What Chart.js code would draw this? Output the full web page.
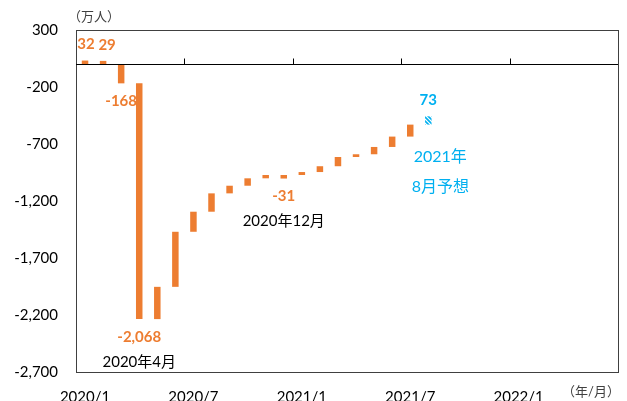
<!DOCTYPE html>
<html>
<head>
<meta charset="utf-8">
<script src="https://cdn.jsdelivr.net/npm/chart.js@4.4.1/dist/chart.umd.min.js"></script>
<style>
  body { margin: 0; background: #fff; }
  #wrap { width: 627px; height: 401px; }
</style>
</head>
<body>
<div id="wrap"><canvas id="chart"></canvas></div>
<script>
// 月（カテゴリ）
const months = [
  '2020/1', '2020/2', '2020/3', '2020/4', '2020/5', '2020/6',
  '2020/7', '2020/8', '2020/9', '2020/10', '2020/11', '2020/12',
  '2021/1', '2021/2', '2021/3', '2021/4', '2021/5', '2021/6',
  '2021/7', '2021/8', '2021/9', '2021/10', '2021/11', '2021/12',
  '2022/1', '2022/2', '2022/3', '2022/4', '2022/5', '2022/6'
];

// 各バーの始点と終点（万人）
const barFrom = [0, 0, 0, -168, -2236, -1953, -1470, -1294, -1133, -1066, -1001, -972, -972, -946, -895, -814, -790, -726, -635, -530];
const barTo   = [32, 29, -168, -2236, -1953, -1470, -1294, -1133, -1066, -1001, -972, -1003, -946, -895, -814, -790, -726, -635, -530, -457];

// データラベル
const valueLabels = ['32', '29', '-168', '-2,068', null, null, null, null, null, null, null, '-31', null, null, null, null, null, null, null, '73'];
const noteLabels = { 3: '2020年4月', 11: '2020年12月' };
const forecastIndex = 19;
const forecastNote = ['2021年', '8月予想'];

const yMin = -2700, yMax = 300, yStep = 500;

const ORANGE = '#ED7D31';
const BLUE = '#00B0F0';
const FONT = "Lato, 'Noto Sans CJK JP', sans-serif";

// 重なるラベルを少しずらす
const labelNudge = { 0: 1, 1: 4 };

// 予想バー用の斜線パターン
function makeHatch() {
  const c = document.createElement('canvas');
  c.width = 4; c.height = 4;
  const g = c.getContext('2d');
  g.strokeStyle = BLUE;
  g.lineWidth = 1.6;
  g.beginPath();
  g.moveTo(0, 0); g.lineTo(4, 4);
  g.moveTo(-2, 2); g.lineTo(2, 6);
  g.moveTo(2, -2); g.lineTo(6, 2);
  g.stroke();
  return g.createPattern(c, 'repeat');
}

const barData = months.map((m, i) => i < barFrom.length ? [barFrom[i], barTo[i]] : null);
const barColors = months.map((m, i) => i === forecastIndex ? makeHatch() : ORANGE);

// 枠・ゼロ線・ラベルを描くプラグイン
const decorations = {
  id: 'decorations',
  afterDatasetsDraw(chart) {
    const { ctx, chartArea: a, scales: { x, y } } = chart;
    const zeroY = Math.round(y.getPixelForValue(0)) + 0.5;
    ctx.save();

    // 枠
    ctx.strokeStyle = '#404040';
    ctx.lineWidth = 1;
    ctx.strokeRect(Math.round(a.left) + 0.5, Math.round(a.top) + 0.5, Math.round(a.right - a.left), Math.round(a.bottom - a.top));

    // ゼロ線と目盛り
    ctx.strokeStyle = '#000';
    ctx.beginPath();
    ctx.moveTo(a.left, zeroY);
    ctx.lineTo(a.right, zeroY);
    for (let i = 6; i < months.length; i += 6) {
      const px = Math.round((x.getPixelForValue(i - 1) + x.getPixelForValue(i)) / 2) + 0.5;
      ctx.moveTo(px, zeroY);
      ctx.lineTo(px, zeroY - 6);
    }
    ctx.stroke();

    // 値ラベル
    ctx.textAlign = 'center';
    ctx.textBaseline = 'middle';
    valueLabels.forEach((txt, i) => {
      if (!txt) return;
      const px = x.getPixelForValue(i) + (labelNudge[i] || 0);
      const endY = y.getPixelForValue(barTo[i]);
      const up = barTo[i] > barFrom[i] && (i === forecastIndex || barFrom[i] === 0);
      ctx.font = 'bold 15px ' + FONT;
      ctx.fillStyle = i === forecastIndex ? BLUE : ORANGE;
      const ly = up ? endY - 16 : endY + 18;
      ctx.fillText(txt, px, ly);
      if (noteLabels[i]) {
        ctx.font = '15px ' + FONT;
        ctx.fillStyle = '#000';
        ctx.fillText(noteLabels[i], px, ly + 25);
      }
    });

    // 予想の注記
    const fx = x.getPixelForValue(forecastIndex) + 12;
    const fy = y.getPixelForValue(barFrom[forecastIndex]);
    ctx.font = '16px ' + FONT;
    ctx.fillStyle = BLUE;
    ctx.fillText(forecastNote[0], fx, fy + 32);
    ctx.fillText(forecastNote[1], fx, fy + 62);

    // 単位
    ctx.font = '13px ' + FONT;
    ctx.fillStyle = '#404040';
    ctx.textAlign = 'left';
    ctx.fillText('（万人）', a.left - 8, 17);
    ctx.fillText('（年/月）', a.right - 56, 392);
    ctx.restore();
  }
};

new Chart(document.getElementById('chart'), {
  type: 'bar',
  data: {
    labels: months,
    datasets: [{
      data: barData,
      backgroundColor: barColors,
      borderWidth: 0,
      categoryPercentage: 1,
      barPercentage: 0.36
    }]
  },
  options: {
    responsive: true,
    maintainAspectRatio: false,
    animation: false,
    layout: { padding: { top: 30, right: 9, left: 0, bottom: 0 } },
    plugins: {
      legend: { display: false },
      tooltip: { enabled: false }
    },
    scales: {
      x: {
        grid: { display: false, drawTicks: false },
        border: { display: false },
        afterFit: (s) => { s.height = 29; },
        ticks: {
          autoSkip: false,
          maxRotation: 0,
          padding: 16,
          color: '#000',
          font: { family: FONT, size: 15 },
          callback: function (v, i) { return i % 6 === 0 ? months[i] : ''; }
        }
      },
      y: {
        min: yMin,
        max: yMax,
        grid: { display: false, drawTicks: false },
        border: { display: false },
        afterFit: (s) => { s.width = 76; },
        ticks: {
          stepSize: yStep,
          padding: 18,
          color: '#000',
          font: { family: FONT, size: 15 }
        }
      }
    }
  },
  plugins: [decorations]
});
</script>
</body>
</html>
